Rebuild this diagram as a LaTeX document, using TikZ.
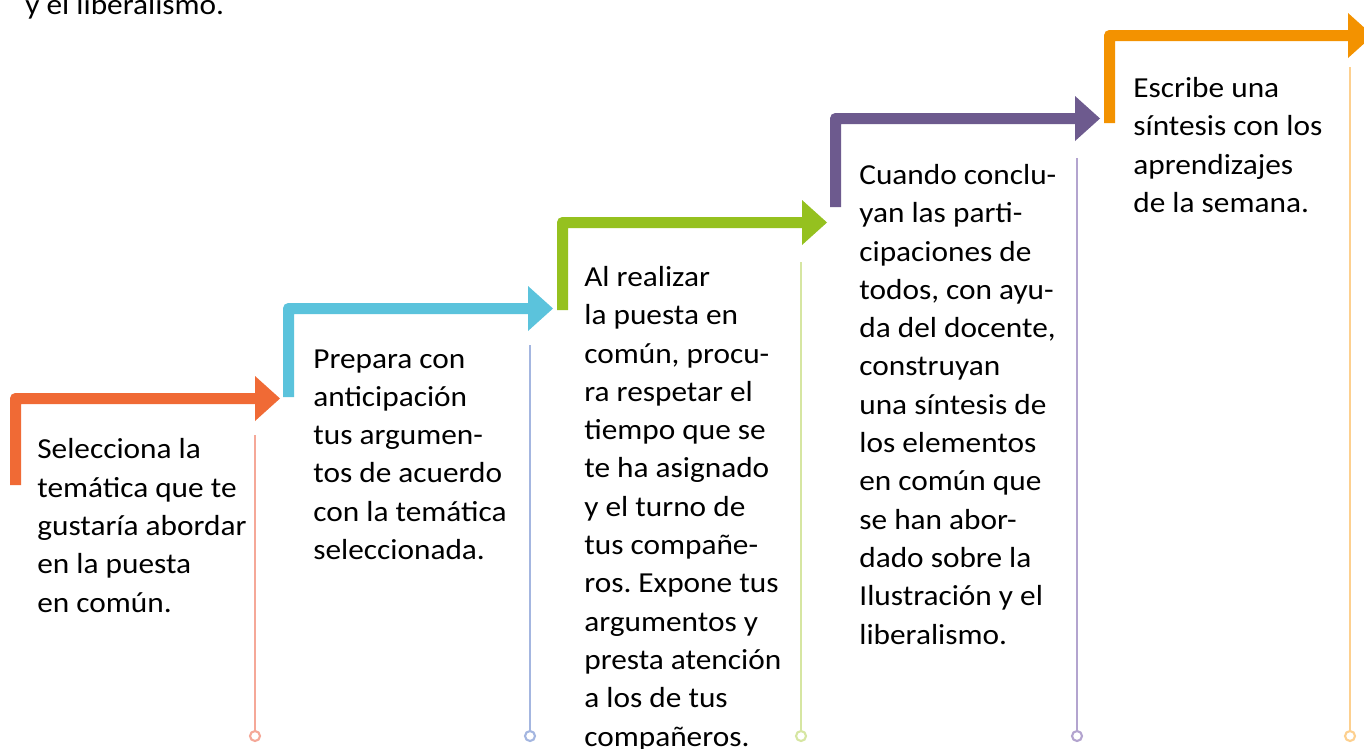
\documentclass[tikz,border=0pt]{standalone}
\usepackage{fontspec}
\setmainfont{Carlito}[FakeStretch=1.08]
\usepackage{xcolor}
\definecolor{stepRed}{HTML}{F06A35}
\definecolor{stepCyan}{HTML}{5BC3DC}
\definecolor{stepGreen}{HTML}{95C11F}
\definecolor{stepPurple}{HTML}{6D5A8E}
\definecolor{stepOrange}{HTML}{F39200}
\definecolor{paleRed}{HTML}{F5A898}
\definecolor{paleCyan}{HTML}{A4B6E0}
\definecolor{paleGreen}{HTML}{D6E6A2}
\definecolor{palePurple}{HTML}{B3A4CF}
\definecolor{paleOrange}{HTML}{FDD08F}
\frenchspacing

\tikzset{
  steptext/.style={anchor=base west,inner sep=0pt,align=left,
    font=\fontsize{16.5}{21.8}\selectfont},
  guide/.style={line width=1.2pt}
}

\begin{document}
\begin{tikzpicture}[x=0.02cm,y=-0.02cm]
  \clip (0,0) rectangle (1364,748);
  \fill[white] (0,0) rectangle (1364,748);

  % step arrows: colour / left x / top y / bottom y / head base x
  \foreach \col/\xl/\yt/\yb/\hb in {stepRed/10/393/485/255,
      stepCyan/283/303/397/528, stepGreen/557/217/310/802,
      stepPurple/830/113/207/1075, stepOrange/1104/30/123/1348}{
    \fill[\col] (\xl,\yb) [rounded corners=3] -- (\xl,\yt) [sharp corners]
      -- (\hb,\yt) -- (\hb,\yt-17) -- (\hb+25,\yt+5.5) -- (\hb,\yt+28)
      -- (\hb,\yt+11) -- (\xl+11,\yt+11) -- (\xl+11,\yb) -- cycle;
  }

  % guide lines with end circles
  \foreach \col/\gx/\gt in {paleRed/255/435, paleCyan/530/345,
      paleGreen/801/262, palePurple/1077/158, paleOrange/1350/67}{
    \draw[guide,\col] (\gx,\gt) -- (\gx,731);
    \draw[guide,\col,fill=white] (\gx,736) circle (5);
  }

  % texts (anchored on the baseline of the last line)
  \node[steptext] (prev) at (25,14) {y el liberalismo.};
  \node[steptext] (t1) at (37,612) {Selecciona la\\temática que te\\gustaría abordar\\en la puesta\\en común.};
  \node[steptext] (t2) at (313,559.5) {Prepara con\\anticipación\\tus argumen-\\tos de acuerdo\\con la temática\\seleccionada.};
  \node[steptext] (t3) at (584,746) {Al realizar\\la puesta en\\común, procu-\\ra respetar el\\tiempo que se\\te ha asignado\\y el turno de\\tus compañe-\\ros. Expone tus\\argumentos y\\presta atención\\a los de tus\\compañeros.};
  \node[steptext] (t4) at (859,644) {Cuando conclu-\\yan las parti-\\cipaciones de\\todos, con ayu-\\da del docente,\\construyan\\una síntesis de\\los elementos\\en común que\\se han abor-\\dado sobre la\\Ilustración y el\\liberalismo.};
  \node[steptext] (t5) at (1133,212.5) {Escribe una\\síntesis con los\\aprendizajes\\de la semana.};
\end{tikzpicture}
\end{document}
